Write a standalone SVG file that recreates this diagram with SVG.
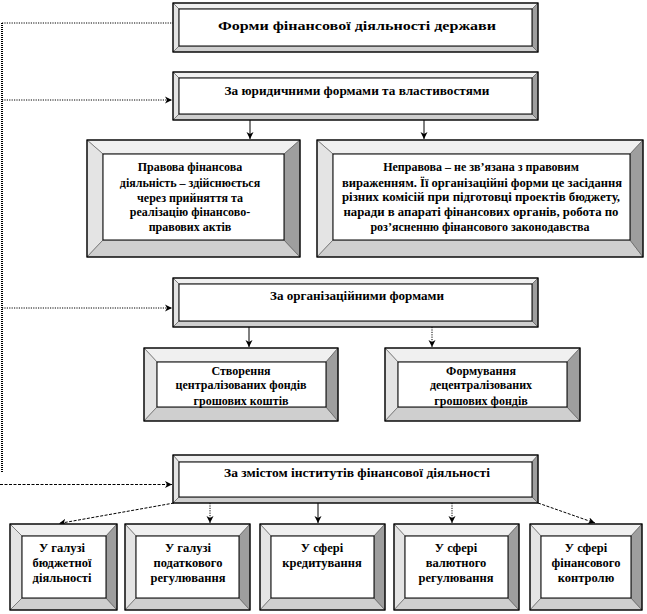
<svg xmlns="http://www.w3.org/2000/svg" width="647" height="614" viewBox="0 0 647 614">
<style>
.t{fill:#f0f0f0;stroke:#555;stroke-width:0.6}
.l{fill:#e4e4e4;stroke:#555;stroke-width:0.6}
.b{fill:#cfcfcf;stroke:#555;stroke-width:0.6}
.r{fill:#9e9e9e;stroke:#555;stroke-width:0.6}
.face{fill:#fff;stroke:#000;stroke-width:1}
.out{fill:none;stroke:#000;stroke-width:1.3}
text{font-family:"Liberation Serif","Times New Roman",serif;font-weight:bold;font-size:12px;fill:#000;text-anchor:middle}
.h{font-size:13px}
.s{font-size:12.5px}
.c{fill:none;stroke:#000;stroke-width:1}
.d{fill:none;stroke:#000;stroke-width:1;stroke-dasharray:1.2 1.2}
.dd{fill:none;stroke:#000;stroke-width:1;stroke-dasharray:3 1.5}
.v{fill:none;stroke:#000;stroke-width:2;stroke-dasharray:1 1}
</style>
<defs>
<marker id="ah" markerUnits="userSpaceOnUse" markerWidth="10" markerHeight="10" refX="7" refY="4" orient="auto">
<path d="M0,0.5 L7,4 L0,7.5 L2,4 Z" fill="#000"/>
</marker>
</defs>
<rect width="647" height="614" fill="#fff"/>

<g id="connectors">
<path class="v" d="M2,23 V473"/>
<path class="d" d="M2,23 H173"/>
<path class="d" d="M2,100 H172" marker-end="url(#ah)"/>
<path class="d" d="M2,308 H172" marker-end="url(#ah)"/>
<path class="dd" d="M0,484.5 H172" stroke-width="1.6" marker-end="url(#ah)"/>
<path class="c" d="M250,120 V139" marker-end="url(#ah)"/>
<path class="c" d="M424,120 V139" marker-end="url(#ah)"/>
<path class="c" d="M249,327 V347" marker-end="url(#ah)"/>
<path class="d" d="M432,327 V347" marker-end="url(#ah)"/>
<path class="dd" d="M174,503 L59,523.5" marker-end="url(#ah)"/>
<path class="d" d="M210,503 V523" marker-end="url(#ah)"/>
<path class="c" d="M318,503 V523" marker-end="url(#ah)"/>
<path class="d" d="M452,503 V523" marker-end="url(#ah)"/>
<path class="dd" d="M538,503 L595,523" marker-end="url(#ah)"/>
</g>

<g id="n-title">
<polygon class="t" points="173,3 538,3 532,9 179,9"/>
<polygon class="l" points="173,3 179,9 179,46 173,52"/>
<polygon class="b" points="173,52 179,46 532,46 538,52"/>
<polygon class="r" points="538,3 538,52 532,46 532,9"/>
<rect class="face" x="179" y="9" width="353" height="37"/>
<rect class="out" x="173" y="3" width="365" height="49"/>
<text class="h" x="357" y="30" font-size="14" textLength="278" lengthAdjust="spacingAndGlyphs">Форми фінансової діяльності держави</text>
</g>

<g id="n-legal">
<polygon class="t" points="173,72 538,72 532,78 179,78"/>
<polygon class="l" points="173,72 179,78 179,114 173,120"/>
<polygon class="b" points="173,120 179,114 532,114 538,120"/>
<polygon class="r" points="538,72 538,120 532,114 532,78"/>
<rect class="face" x="179" y="78" width="353" height="36"/>
<rect class="out" x="173" y="72" width="365" height="48"/>
<text class="h" x="357" y="95" textLength="265" lengthAdjust="spacingAndGlyphs">За юридичними  формами  та  властивостями</text>
</g>

<g id="n-legal-fin">
<polygon class="t" points="87,140 300,140 284,154 103,154"/>
<polygon class="l" points="87,140 103,154 103,240 87,257"/>
<polygon class="b" points="87,257 103,240 284,240 300,257"/>
<polygon class="r" points="300,140 300,257 284,240 284,154"/>
<rect class="face" x="103" y="154" width="181" height="86"/>
<rect class="out" x="87" y="140" width="213" height="117"/>
<text x="190" y="171">Правова  фінансова</text>
<text x="190" y="187">діяльність  – здійснюється</text>
<text x="190" y="202">через прийняття та</text>
<text x="190" y="216">реалізацію фінансово-</text>
<text x="190" y="231">правових  актів</text>
</g>

<g id="n-nonlegal">
<polygon class="t" points="317,140 643,140 630,154 333,154"/>
<polygon class="l" points="317,140 333,154 333,240 317,257"/>
<polygon class="b" points="317,257 333,240 630,240 643,257"/>
<polygon class="r" points="643,140 643,257 630,240 630,154"/>
<rect class="face" x="333" y="154" width="297" height="86"/>
<rect class="out" x="317" y="140" width="326" height="117"/>
<text x="481" y="171">Неправова  – не зв’язана з правовим</text>
<text x="482" y="187" textLength="280" lengthAdjust="spacingAndGlyphs">вираженням. Її організаційні  форми це засідання</text>
<text x="481" y="201" textLength="278" lengthAdjust="spacingAndGlyphs">різних  комісій при підготовці  проектів  бюджету,</text>
<text x="481" y="216" textLength="275" lengthAdjust="spacingAndGlyphs">наради в апараті фінансових  органів, робота по</text>
<text x="480" y="231">роз’ясненню фінансового законодавства</text>
</g>

<g id="n-org">
<polygon class="t" points="173,278 538,278 532,284 179,284"/>
<polygon class="l" points="173,278 179,284 179,321 173,327"/>
<polygon class="b" points="173,327 179,321 532,321 538,327"/>
<polygon class="r" points="538,278 538,327 532,321 532,284"/>
<rect class="face" x="179" y="284" width="353" height="37"/>
<rect class="out" x="173" y="278" width="365" height="49"/>
<text class="h" x="357" y="300" textLength="174" lengthAdjust="spacingAndGlyphs">За організаційними  формами</text>
</g>

<g id="n-central">
<polygon class="t" points="144,348 338,348 326,362 157,362"/>
<polygon class="l" points="144,348 157,362 157,407 144,421"/>
<polygon class="b" points="144,421 157,407 326,407 338,421"/>
<polygon class="r" points="338,348 338,421 326,407 326,362"/>
<rect class="face" x="157" y="362" width="169" height="45"/>
<rect class="out" x="144" y="348" width="194" height="73"/>
<text x="241" y="375">Створення</text>
<text x="241" y="389">централізованих  фондів</text>
<text x="241" y="405">грошових  коштів</text>
</g>

<g id="n-decentral">
<polygon class="t" points="385,348 580,348 567,362 398,362"/>
<polygon class="l" points="385,348 398,362 398,407 385,421"/>
<polygon class="b" points="385,421 398,407 567,407 580,421"/>
<polygon class="r" points="580,348 580,421 567,407 567,362"/>
<rect class="face" x="398" y="362" width="169" height="45"/>
<rect class="out" x="385" y="348" width="195" height="73"/>
<text x="481" y="375">Формування</text>
<text x="481" y="389">децентралізованих</text>
<text x="481" y="405">грошових  фондів</text>
</g>

<g id="n-content">
<polygon class="t" points="173,455 538,455 532,462 179,462"/>
<polygon class="l" points="173,455 179,462 179,497 173,503"/>
<polygon class="b" points="173,503 179,497 532,497 538,503"/>
<polygon class="r" points="538,455 538,503 532,497 532,462"/>
<rect class="face" x="179" y="462" width="353" height="35"/>
<rect class="out" x="173" y="455" width="365" height="48"/>
<text class="h" x="357" y="477" textLength="266" lengthAdjust="spacingAndGlyphs">За змістом інститутів фінансової  діяльності</text>
</g>

<g id="n-budget">
<polygon class="t" points="10,524 117,524 106,536 22,536"/>
<polygon class="l" points="10,524 22,536 22,598 10,610"/>
<polygon class="b" points="10,610 22,598 106,598 117,610"/>
<polygon class="r" points="117,524 117,610 106,598 106,536"/>
<rect class="face" x="22" y="536" width="84" height="62"/>
<rect class="out" x="10" y="524" width="107" height="86"/>
<text class="s" x="62" y="552">У галузі</text>
<text class="s" x="62" y="567">бюджетної</text>
<text class="s" x="62" y="582">діяльності</text>
</g>

<g id="n-tax">
<polygon class="t" points="125,524 250,524 239,536 136,536"/>
<polygon class="l" points="125,524 136,536 136,598 125,610"/>
<polygon class="b" points="125,610 136,598 239,598 250,610"/>
<polygon class="r" points="250,524 250,610 239,598 239,536"/>
<rect class="face" x="136" y="536" width="103" height="62"/>
<rect class="out" x="125" y="524" width="125" height="86"/>
<text class="s" x="188" y="552">У галузі</text>
<text class="s" x="188" y="567">податкового</text>
<text class="s" x="188" y="582">регулювання</text>
</g>

<g id="n-credit">
<polygon class="t" points="260,524 385,524 374,536 271,536"/>
<polygon class="l" points="260,524 271,536 271,598 260,610"/>
<polygon class="b" points="260,610 271,598 374,598 385,610"/>
<polygon class="r" points="385,524 385,610 374,598 374,536"/>
<rect class="face" x="271" y="536" width="103" height="62"/>
<rect class="out" x="260" y="524" width="125" height="86"/>
<text class="s" x="322" y="552">У сфері</text>
<text class="s" x="322" y="567">кредитування</text>
</g>

<g id="n-currency">
<polygon class="t" points="394,524 519,524 508,536 405,536"/>
<polygon class="l" points="394,524 405,536 405,598 394,610"/>
<polygon class="b" points="394,610 405,598 508,598 519,610"/>
<polygon class="r" points="519,524 519,610 508,598 508,536"/>
<rect class="face" x="405" y="536" width="103" height="62"/>
<rect class="out" x="394" y="524" width="125" height="86"/>
<text class="s" x="456" y="552">У сфері</text>
<text class="s" x="456" y="567">валютного</text>
<text class="s" x="456" y="582">регулювання</text>
</g>

<g id="n-control">
<polygon class="t" points="530,524 642,524 631,536 541,536"/>
<polygon class="l" points="530,524 541,536 541,598 530,610"/>
<polygon class="b" points="530,610 541,598 631,598 642,610"/>
<polygon class="r" points="642,524 642,610 631,598 631,536"/>
<rect class="face" x="541" y="536" width="90" height="62"/>
<rect class="out" x="530" y="524" width="112" height="86"/>
<text class="s" x="586" y="552">У сфері</text>
<text class="s" x="586" y="567">фінансового</text>
<text class="s" x="586" y="582">контролю</text>
</g>
</svg>
